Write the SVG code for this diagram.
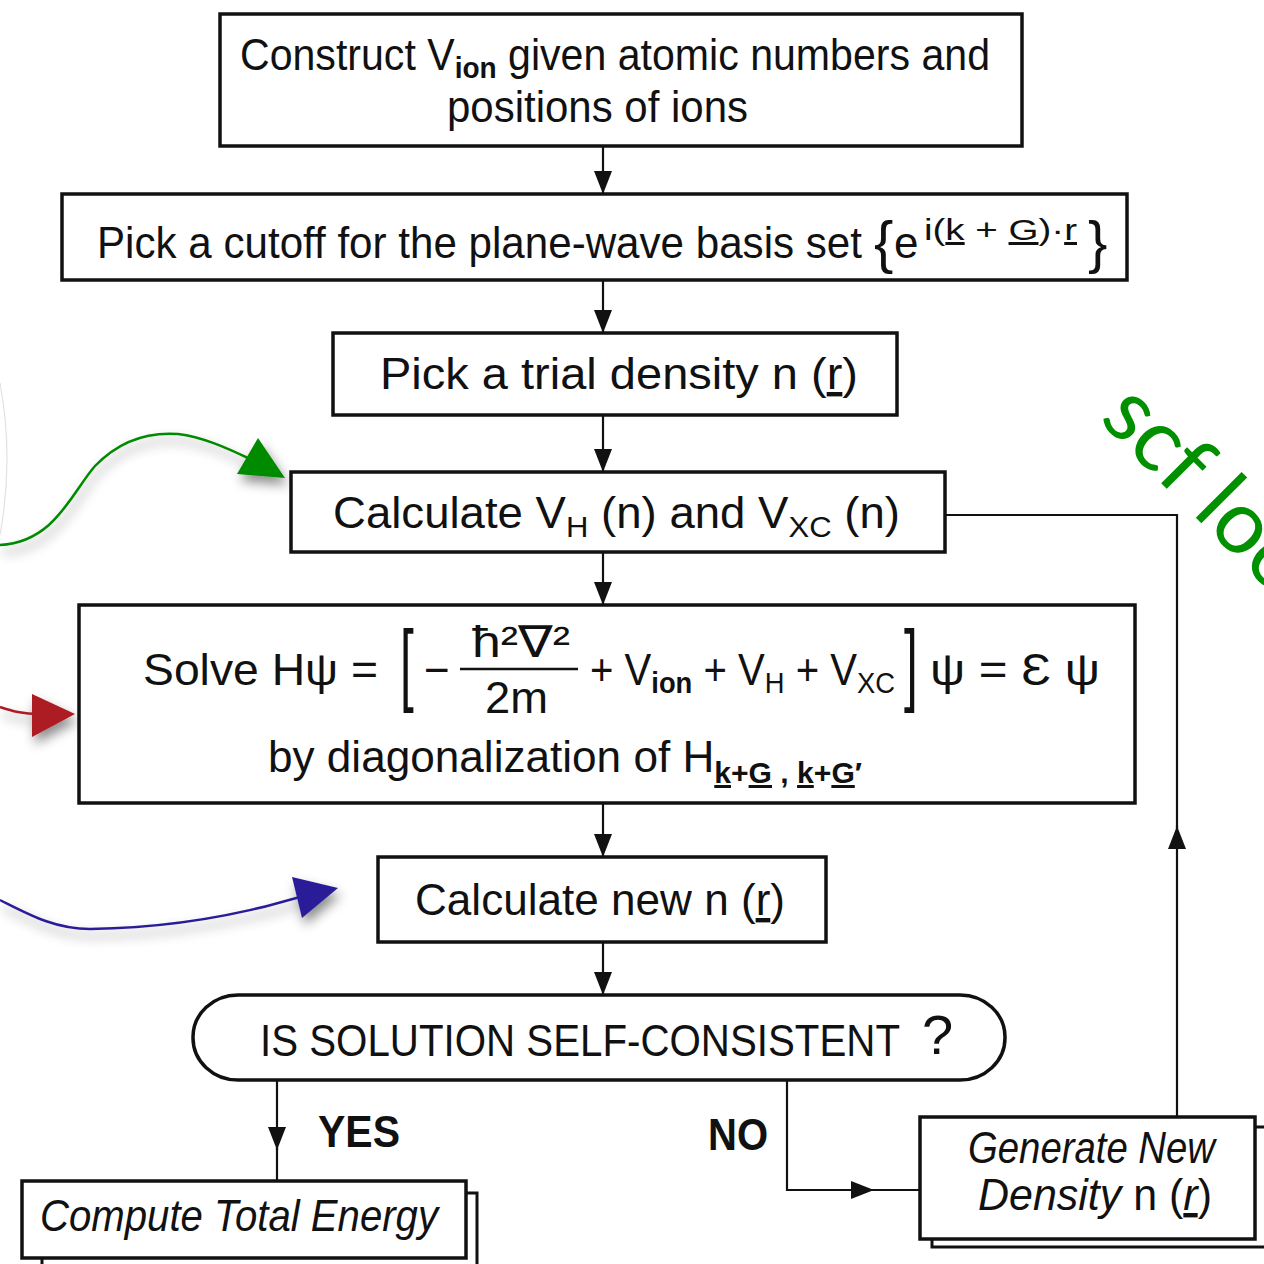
<svg xmlns="http://www.w3.org/2000/svg" width="1264" height="1264" viewBox="0 0 1264 1264">
<style>
.box{fill:#fff;stroke:#111;stroke-width:3.5}
.t{font-family:"Liberation Sans","DejaVu Sans",sans-serif;font-size:44px;fill:#111}
.sub{font-size:30px}
.it{font-style:italic}
.b{font-weight:bold}
.u{text-decoration:underline}
.conn{stroke:#111;stroke-width:2.2;fill:none}
.scf{font-family:Lato,"Open Sans",sans-serif;font-size:88px;fill:#009000}
</style>
<defs>
<marker id="ah" markerUnits="userSpaceOnUse" markerWidth="26" markerHeight="20" refX="23" refY="10" orient="auto">
<path d="M0,1 L23,10 L0,19 z" fill="#111"/>
</marker>
<filter id="sh" x="-20%" y="-30%" width="160%" height="180%">
<feDropShadow dx="3" dy="7" stdDeviation="6" flood-color="#000" flood-opacity="0.45"/>
</filter>
</defs>

<path d="M0,383 Q14,458 0,535" fill="none" stroke="#e2e2e2" stroke-width="1.2"/>

<g id="connectors">
<line class="conn" x1="603" y1="146" x2="603" y2="194" marker-end="url(#ah)"/>
<line class="conn" x1="603" y1="280" x2="603" y2="333" marker-end="url(#ah)"/>
<line class="conn" x1="603" y1="415" x2="603" y2="472" marker-end="url(#ah)"/>
<line class="conn" x1="603" y1="552" x2="603" y2="605" marker-end="url(#ah)"/>
<line class="conn" x1="603" y1="803" x2="603" y2="857" marker-end="url(#ah)"/>
<line class="conn" x1="603" y1="942" x2="603" y2="995" marker-end="url(#ah)"/>
<line class="conn" x1="277" y1="1080" x2="277" y2="1150" marker-end="url(#ah)"/>
<line class="conn" x1="277" y1="1148" x2="277" y2="1182"/>
<path class="conn" d="M787,1080 V1190 H874" marker-end="url(#ah)"/>
<line class="conn" x1="872" y1="1190" x2="920" y2="1190"/>
<line class="conn" x1="1177" y1="1117" x2="1177" y2="826" marker-end="url(#ah)"/>
<path class="conn" d="M1177,828 V515 H945"/>
</g>

<g id="annotations" filter="url(#sh)">
<path d="M0,545 C55,542 72,492 95,466 C120,440 150,432 178,434 C202,437 225,447 250,459" fill="none" stroke="#008a00" stroke-width="2.5"/>
<polygon points="258,438 237,474 285,478" fill="#008a00"/>
<path d="M0,707 C12,711 22,714 40,714" fill="none" stroke="#ad1a24" stroke-width="2.5"/>
<polygon points="32,694 32,737 75,714" fill="#ad1a24"/>
<path d="M0,900 C30,915 55,929 90,929 C170,928 240,915 300,897" fill="none" stroke="#2c1f99" stroke-width="2.5"/>
<polygon points="292,877 302,918 338,888" fill="#2c1f99"/>
</g>

<text class="scf" x="1098" y="420" transform="rotate(45 1098 420)">scf loop</text>

<g id="n1">
<rect class="box" x="220" y="14" width="802" height="132"/>
<text class="t" x="240" y="70" textLength="750" lengthAdjust="spacingAndGlyphs">Construct V<tspan class="sub b" dy="8">ion</tspan><tspan dy="-8"> given atomic numbers and</tspan></text>
<text class="t" x="447" y="122" textLength="301" lengthAdjust="spacingAndGlyphs">positions of ions</text>
</g>

<g id="n2">
<rect class="box" x="62" y="194" width="1065" height="86"/>
<text class="t" x="97" y="258" textLength="765" lengthAdjust="spacingAndGlyphs">Pick a cutoff for the plane-wave basis set</text>
<text class="t" x="874" y="262" style="font-size:58px">{</text>
<text class="t" x="894" y="258">e</text>
<text class="t" x="924" y="240" style="font-size:30px" textLength="153" lengthAdjust="spacingAndGlyphs">i(<tspan class="u">k</tspan> + <tspan class="u">G</tspan>)·<tspan class="u">r</tspan></text>
<text class="t" x="1088" y="262" style="font-size:58px">}</text>
</g>

<g id="n3">
<rect class="box" x="333" y="333" width="564" height="82"/>
<text class="t" x="380" y="389" textLength="478" lengthAdjust="spacingAndGlyphs">Pick a trial density n (<tspan class="u">r</tspan>)</text>
</g>

<g id="n4">
<rect class="box" x="291" y="472" width="654" height="80"/>
<text class="t" x="333" y="528" textLength="567" lengthAdjust="spacingAndGlyphs">Calculate V<tspan class="sub" dy="9">H</tspan><tspan dy="-9"> (n) and V</tspan><tspan class="sub" dy="9">XC</tspan><tspan dy="-9"> (n)</tspan></text>
</g>

<g id="n5">
<rect class="box" x="79" y="605" width="1056" height="198"/>
<text class="t" x="143" y="685" textLength="235" lengthAdjust="spacingAndGlyphs">Solve Hψ =</text>
<text class="t" x="0" y="0" style="font-size:90px" transform="translate(400 694) scale(0.55 1)">[</text>
<text class="t" x="424" y="685">−</text>
<text class="t" x="472" y="657" textLength="98" lengthAdjust="spacingAndGlyphs">ħ²∇²</text>
<line x1="460" y1="669" x2="578" y2="669" stroke="#111" stroke-width="2.5"/>
<text class="t" x="485" y="713" textLength="63" lengthAdjust="spacingAndGlyphs">2m</text>
<text class="t" x="590" y="685" textLength="305" lengthAdjust="spacingAndGlyphs">+ V<tspan class="sub b" dy="8">ion</tspan><tspan dy="-8"> + V</tspan><tspan class="sub" dy="8">H</tspan><tspan dy="-8"> + V</tspan><tspan class="sub" dy="8">XC</tspan></text>
<text class="t" x="0" y="0" style="font-size:90px" transform="translate(904 694) scale(0.55 1)">]</text>
<text class="t" x="930" y="685" textLength="170" lengthAdjust="spacingAndGlyphs">ψ = Ɛ ψ</text>
<text class="t" x="268" y="772" textLength="594" lengthAdjust="spacingAndGlyphs">by diagonalization of H<tspan class="sub b" dy="11"><tspan class="u">k</tspan>+<tspan class="u">G</tspan> , <tspan class="u">k</tspan>+<tspan class="u">G</tspan>′</tspan></text>
</g>

<g id="n6">
<rect class="box" x="378" y="857" width="448" height="85"/>
<text class="t" x="415" y="915" textLength="370" lengthAdjust="spacingAndGlyphs">Calculate new n (<tspan class="u">r</tspan>)</text>
</g>

<g id="n7">
<rect class="box" x="193" y="995" width="812" height="85" rx="45" ry="42"/>
<text class="t" x="260" y="1056" textLength="640" lengthAdjust="spacingAndGlyphs">IS SOLUTION SELF-CONSISTENT</text>
<text class="t" x="922" y="1054" style="font-size:56px">?</text>
</g>

<text class="t b" x="318" y="1147" textLength="82" lengthAdjust="spacingAndGlyphs">YES</text>
<text class="t b" x="708" y="1150" textLength="60" lengthAdjust="spacingAndGlyphs">NO</text>

<g id="n8">
<rect class="box" x="42" y="1193" width="435" height="90" style="stroke-width:3"/>
<rect class="box" x="22" y="1181" width="444" height="77"/>
<text class="t it" x="40" y="1231" textLength="398" lengthAdjust="spacingAndGlyphs">Compute Total Energy</text>
</g>

<g id="n9">
<rect class="box" x="932" y="1127" width="345" height="120" style="stroke-width:3"/>
<rect class="box" x="920" y="1117" width="335" height="122"/>
<text class="t it" x="968" y="1163" textLength="247" lengthAdjust="spacingAndGlyphs">Generate New</text>
<text class="t" x="978" y="1210" textLength="234" lengthAdjust="spacingAndGlyphs"><tspan class="it">Density</tspan> n (<tspan class="u it">r</tspan>)</text>
</g>
</svg>
